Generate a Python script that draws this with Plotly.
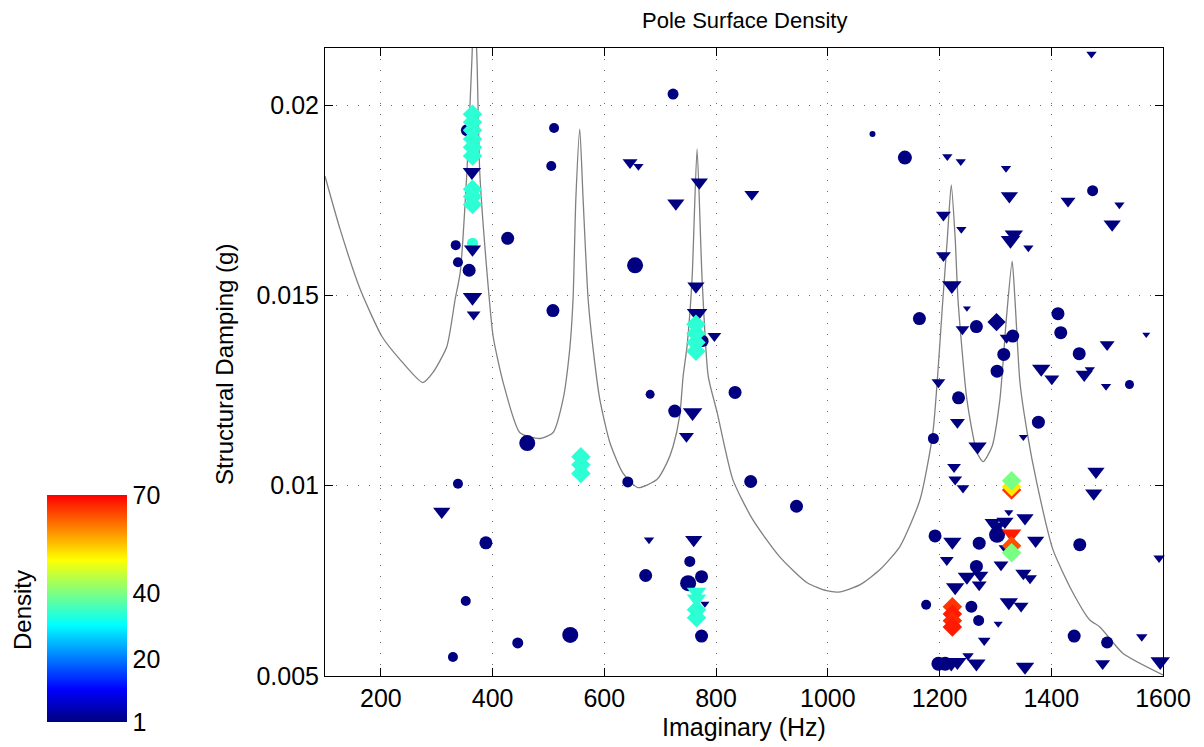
import plotly.graph_objects as go

# ---------------- data ----------------
CURVE_HZ = [100, 127, 163, 202, 234, 275, 293, 318, 333, 342, 354, 363, 367, 372, 377, 390, 401,
            419, 449, 485, 508, 526, 538, 544, 549, 556, 562, 571, 580, 592, 610, 633, 660, 694,
            712, 723, 735, 741, 748, 757, 766, 775, 786, 802, 830, 866, 914, 963, 998, 1022,
            1058, 1093, 1129, 1165, 1188, 1206, 1214, 1221, 1228, 1233, 1249, 1267, 1278, 1294,
            1308, 1320, 1330, 1335, 1344, 1357, 1374, 1403, 1439, 1469, 1487, 1528, 1600]
CURVE_G = [0.01813, 0.01674, 0.01516, 0.01392, 0.01332, 0.01271, 0.01297, 0.01365, 0.0149, 0.0156,
           0.01824, 0.02121, 0.0228, 0.02121, 0.01824, 0.0156, 0.01392,
           0.01271, 0.01139, 0.01124, 0.01139, 0.01226, 0.01358, 0.0149, 0.01753, 0.01937, 0.01753,
           0.0149, 0.01358, 0.01226, 0.01113, 0.01034, 0.00995, 0.01016,
           0.0106, 0.01103, 0.01185, 0.01287, 0.01366, 0.01542, 0.01884, 0.01542, 0.01287,
           0.01192, 0.01016, 0.0091, 0.00813, 0.00745, 0.00724, 0.00721,
           0.0074, 0.00779, 0.0084, 0.00963, 0.01139, 0.0149, 0.0165, 0.0179, 0.0165, 0.0149,
           0.01226, 0.01087, 0.01063, 0.01103,
           0.01226, 0.01445, 0.0159, 0.0149, 0.01271, 0.01139, 0.01008, 0.00832, 0.00718, 0.00647,
           0.00629, 0.0056, 0.00503]

# density-1 poles drawn as circles
CIRC_HZ = [338, 388, 352, 329, 334, 338, 358, 354, 427, 510, 505, 508, 462, 445, 539, 642, 674,
           682, 726, 834, 862, 944, 753, 774, 750, 774, 776, 723, 655, 1080, 1138, 1474, 1540,
           1500, 1164, 1266, 1331, 1412, 1417, 1315, 1450, 1303, 1234, 1377, 1189, 1303, 1451,
           1192, 1271, 1266, 1176, 1257, 1270, 1198, 1210, 1441]
CIRC_G = [0.01005, 0.0085, 0.00697, 0.0055, 0.01632, 0.01587, 0.01566, 0.01934, 0.0165, 0.0194,
          0.0184, 0.0146, 0.01112, 0.00587, 0.00608, 0.0101, 0.00764,
          0.0124, 0.01196, 0.01245, 0.01011, 0.00946, 0.00801, 0.00761, 0.00744, 0.00605, 0.0138,
          0.02029, 0.01579, 0.01924, 0.01862, 0.01775, 0.01266,
          0.00588, 0.01439, 0.01418, 0.01393, 0.01452, 0.01402, 0.01345, 0.01347, 0.01301, 0.01231,
          0.01167, 0.01124, 0.00871, 0.00845,
          0.00868, 0.00849, 0.00788, 0.00687, 0.00682, 0.00646, 0.00532, 0.00532, 0.00605]
CIRC_SIZE = [10, 13, 10, 10, 10, 10, 13, 12, 13, 10, 10, 13, 16, 11, 16, 11, 13,
             9, 13, 13, 13, 13, 11, 13, 16, 13, 12, 11, 16, 6, 14, 11, 9,
             12, 13, 13, 13, 13, 13, 13, 13, 13, 13, 13, 11, 16, 13,
             13, 13, 13, 10, 12, 11, 14, 14, 13]

# density-1 poles drawn as down triangles
TRI_HZ = [309, 364, 366, 680, 758, 747, 760, 797, 764, 762, 770, 770, 728, 646, 661, 864, 1214,
          1238, 1319, 1325, 1207, 1239, 1207, 1222, 1327, 1333, 1359, 1472, 1430, 1522, 1509,
          1500, 1570, 1498, 1593, 1562, 1492, 1595, 1469, 1480, 1476, 1249, 1241, 1320, 1382,
          1459, 1401, 1198, 1232, 1350, 1268, 1226, 1228, 1242, 1324, 1353, 1302, 1317, 1295,
          1372, 1223, 1213, 1317, 1310, 1249, 1273, 1271, 1350, 1362, 1228, 1324, 1346, 1227,
          1305, 1280, 1221, 1232, 1266, 1251, 1353, 780]
TRI_G = [0.00932, 0.01495, 0.0145, 0.00858, 0.01192, 0.0113, 0.00858, 0.01393, 0.01524, 0.01455,
         0.01455, 0.01797, 0.01742, 0.01849, 0.01839, 0.01766, 0.01865,
         0.01852, 0.01834, 0.01761, 0.01711, 0.01674, 0.01605, 0.01526, 0.01645, 0.0166, 0.01625,
         0.02134, 0.01748, 0.01738, 0.01687,
         0.01371, 0.01397, 0.01261, 0.0081, 0.00603, 0.00533, 0.00538, 0.01305, 0.01037, 0.0098,
         0.01466, 0.01411, 0.01389, 0.01307,
         0.01292, 0.01281, 0.01272, 0.01167, 0.01128, 0.01103, 0.01049, 0.01016, 0.00994, 0.0093,
         0.00915, 0.00893, 0.00906, 0.00903,
         0.00856, 0.00853, 0.00805, 0.00836, 0.00792, 0.00761, 0.00765, 0.0074, 0.0077, 0.00757,
         0.00733, 0.00694, 0.00684, 0.0063,
         0.00637, 0.00593, 0.00533, 0.00537, 0.00533, 0.00553, 0.00524, 0.0069]
TRI_SIZE = [15, 17, 12, 9, 17, 13, 15, 12, 15, 14, 14, 15, 15, 13, 9, 13, 9,
            9, 9, 15, 13, 9, 13, 17, 17, 16, 9, 9, 13, 9, 15,
            13, 7, 9, 10, 10, 13, 17, 9, 15, 15, 7, 12, 12, 16,
            15, 13, 12, 13, 8, 16, 12, 12, 11, 8, 15, 16, 15, 14,
            15, 16, 12, 11, 13, 16, 14, 13, 14, 12, 16, 16, 13, 9,
            8, 11, 16, 16, 16, 10, 16, 8]

# density-1 pole drawn as diamond
DIA_HZ = [1302]
DIA_G = [0.0143]
DIA_SIZE = [14]

# higher-density poles (coloured)
HOT_HZ = [364, 364, 364, 364, 364, 364, 364, 364, 364, 364,
          558, 558, 558,
          764, 764, 764, 764,
          765, 765, 765, 765,
          1329, 1329, 1329,
          1329, 1329, 1329,
          1223, 1223, 1223, 1223]
HOT_G = [0.01637, 0.01976, 0.01955, 0.01934, 0.01911, 0.01889, 0.01866, 0.01779, 0.0176, 0.01739,
         0.01076, 0.01055, 0.01032,
         0.01424, 0.014, 0.01376, 0.01353,
         0.00721, 0.00703, 0.00674, 0.00653,
         0.00989, 0.00997, 0.01013,
         0.00874, 0.00842, 0.00824,
         0.00682, 0.00663, 0.00645, 0.00629]
HOT_SYMBOL = ["circle", "diamond", "diamond", "diamond", "diamond", "diamond", "diamond", "diamond",
              "diamond", "diamond",
              "diamond", "diamond", "diamond",
              "diamond", "diamond", "diamond", "diamond",
              "triangle-down", "triangle-down", "diamond", "diamond",
              "diamond", "diamond", "diamond",
              "triangle-down", "diamond", "diamond",
              "diamond", "diamond", "diamond", "diamond"]
HOT_SIZE = [11, 15, 15, 15, 15, 15, 15, 15, 15, 15,
            15, 15, 15,
            15, 15, 15, 15,
            17, 17, 15, 15,
            15, 15, 15,
            17, 15, 15,
            15, 15, 15, 15]
HOT_DENSITY = [34, 34, 34, 34, 34, 34, 34, 34, 34, 34,
               34, 34, 34,
               34, 34, 34, 34,
               34, 34, 34, 34,
               66, 52, 40,
               68, 64, 40,
               66, 68, 67, 68]

# density-1 poles that sit on top of the coloured stack
TOP_HZ = [363, 364]
TOP_G = [0.01824, 0.01621]
TOP_SIZE = [16, 15]

NAVY_DENSITY = 1
CB_TICKS = [1, 20, 40, 70]
X_TICKS = [200, 400, 600, 800, 1000, 1200, 1400, 1600]
Y_TICKS = [0.005, 0.01, 0.015, 0.02]
Y_TICKTEXT = ["0.005", "0.01", "0.015", "0.02"]

# ---------------- figure ----------------
JET = [[0.0, "#000080"], [0.1429, "#0000ff"], [0.4286, "#00ffff"],
       [0.7143, "#ffff00"], [1.0, "#ff0000"]]

FONT = "Liberation Sans, Arial, sans-serif"

fig = go.Figure()
fig.add_trace(go.Scatter(x=CURVE_HZ, y=CURVE_G, mode="lines",
                         line=dict(color="#808080", width=1.3, shape="spline", smoothing=0.6),
                         hoverinfo="skip"))


def pole_trace(xs, ys, sizes, symbol, dens):
    return go.Scatter(x=xs, y=ys, mode="markers", cliponaxis=False,
                      marker=dict(symbol=symbol, size=sizes, color=dens, opacity=1,
                                  coloraxis="coloraxis", line=dict(width=0)))


fig.add_trace(pole_trace(CIRC_HZ, CIRC_G, CIRC_SIZE, "circle", [NAVY_DENSITY] * len(CIRC_HZ)))
fig.add_trace(pole_trace(TRI_HZ, TRI_G, TRI_SIZE, "triangle-down", [NAVY_DENSITY] * len(TRI_HZ)))
fig.add_trace(pole_trace(DIA_HZ, DIA_G, DIA_SIZE, "diamond", [NAVY_DENSITY] * len(DIA_HZ)))
fig.add_trace(pole_trace(HOT_HZ, HOT_G, HOT_SIZE, HOT_SYMBOL, HOT_DENSITY))
fig.add_trace(pole_trace(TOP_HZ, TOP_G, TOP_SIZE, "triangle-down", [NAVY_DENSITY] * len(TOP_HZ)))

W, H = 1204, 747
L, R, T, B = 325, 41, 48, 71
PW, PH = W - L - R, H - T - B


def px(xp):
    return (xp - L) / PW


def py(yp):
    return (H - B - yp) / PH


axis_common = dict(showline=True, linecolor="black", linewidth=1, mirror="ticks",
                   ticks="inside", ticklen=8, tickcolor="black", zeroline=False,
                   showgrid=True, gridcolor="#6e6e6e", gridwidth=1, griddash="1px,10px",
                   tickfont=dict(family=FONT, size=25, color="black"))

fig.update_layout(
    width=W, height=H,
    margin=dict(l=L, r=R, t=T, b=B),
    paper_bgcolor="white", plot_bgcolor="white",
    showlegend=False,
    font=dict(family=FONT, color="black"),
    xaxis=dict(range=[100, 1600], tickvals=X_TICKS, **axis_common),
    yaxis=dict(range=[0.005, 0.0215], tickvals=Y_TICKS, ticktext=Y_TICKTEXT, **axis_common),
    coloraxis=dict(
        cmin=1, cmax=70, colorscale=JET,
        colorbar=dict(xref="paper", x=px(47), xanchor="left", xpad=0,
                      yref="paper", y=py(722), yanchor="bottom", ypad=0,
                      thickness=80, thicknessmode="pixels",
                      len=227, lenmode="pixels",
                      outlinewidth=0, ticks="", tickvals=CB_TICKS,
                      tickfont=dict(family=FONT, size=25, color="black"))),
    annotations=[
        dict(text="Pole Surface Density", x=0.5, y=py(20), xref="paper", yref="paper",
             showarrow=False, xanchor="center", yanchor="middle",
             font=dict(family=FONT, size=22, color="black")),
        dict(text="Imaginary (Hz)", x=0.5, y=py(727), xref="paper", yref="paper",
             showarrow=False, xanchor="center", yanchor="middle",
             font=dict(family=FONT, size=25, color="black")),
        dict(text="Structural Damping (g)", x=px(225), y=py(365), xref="paper", yref="paper",
             showarrow=False, xanchor="center", yanchor="middle", textangle=-90,
             font=dict(family=FONT, size=24, color="black")),
        dict(text="Density", x=px(22), y=py(610), xref="paper", yref="paper",
             showarrow=False, xanchor="center", yanchor="middle", textangle=-90,
             font=dict(family=FONT, size=24, color="black")),
    ],
)

fig.write_html("out.html")
